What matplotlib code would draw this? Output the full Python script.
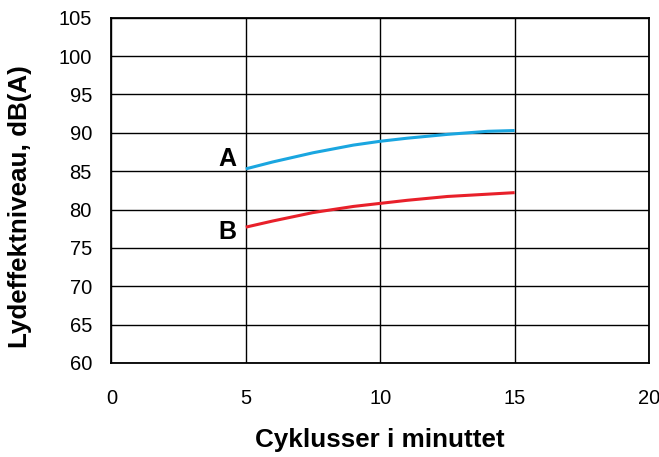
import numpy as np
import matplotlib.pyplot as plt

plt.rcParams['font.family'] = ['Liberation Sans', 'DejaVu Sans']

# data
cycles = [5, 6, 7.5, 9, 10, 11, 12.5, 14, 15]
level_a = [85.3, 86.2, 87.4, 88.4, 88.9, 89.3, 89.8, 90.2, 90.3]
level_b = [77.7, 78.5, 79.6, 80.4, 80.8, 81.2, 81.7, 82.0, 82.2]

x_ticks = [0, 5, 10, 15, 20]
y_ticks = np.arange(60, 106, 5)

fig = plt.figure(figsize=(6.59, 4.57), dpi=100)
ax = fig.add_axes([0.169, 0.206, 0.816, 0.755])

ax.plot(cycles, level_a, color='#1aa6e0', lw=2.2, solid_capstyle='butt')
ax.plot(cycles, level_b, color='#e8202a', lw=2.2, solid_capstyle='butt')

# curve labels
ax.text(4.65, 85.65, 'A', fontsize=18, fontweight='bold', ha='right', va='baseline')
ax.text(4.65, 76.2, 'B', fontsize=18, fontweight='bold', ha='right', va='baseline')

ax.set_xlim(0, 20)
ax.set_ylim(60, 105)
ax.set_xticks(x_ticks)
ax.set_yticks(y_ticks)
ax.grid(True, color='black', lw=1)
ax.tick_params(length=0, labelsize=14.5, pad=14)
ax.tick_params(axis='x', pad=19)
for s in ax.spines.values():
    s.set_linewidth(1.3)

ax.set_xlabel('Cyklusser i minuttet', fontsize=18.7, fontweight='bold')
ax.set_ylabel('Lydeffektniveau, dB(A)', fontsize=18.7, fontweight='bold')
ax.xaxis.set_label_coords(0.5, -0.19)
ax.yaxis.set_label_coords(-0.148, 0.452)

fig.savefig('out.png', dpi=100)
